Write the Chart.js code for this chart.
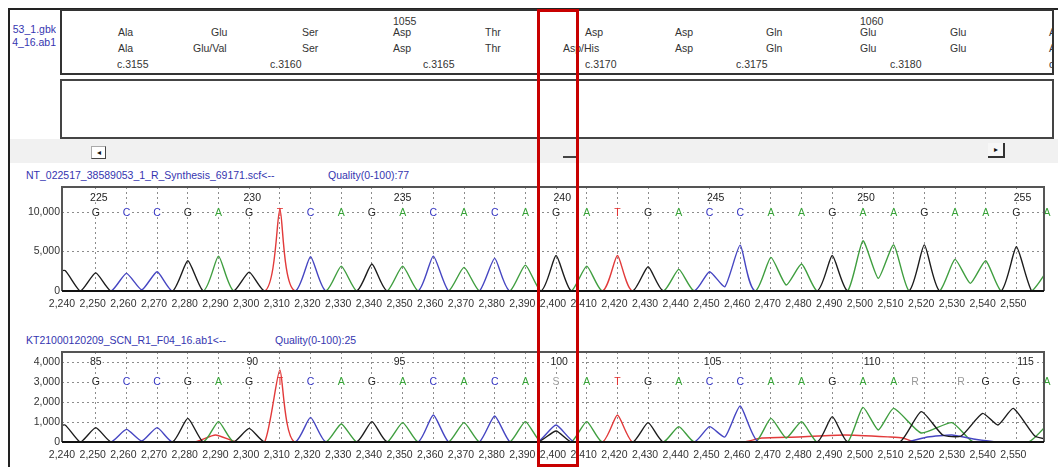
<!DOCTYPE html>
<html><head><meta charset="utf-8">
<script src="https://cdn.jsdelivr.net/npm/chart.js@4.4.1/dist/chart.umd.min.js"></script>
<style>
html,body{margin:0;padding:0;background:#fff;}
body{width:1058px;height:467px;position:relative;overflow:hidden;font-family:"Liberation Sans",Arial,sans-serif;}
.a{position:absolute;}
.t{position:absolute;white-space:nowrap;font-size:10.5px;line-height:13px;color:#333;}
.ttl{position:absolute;white-space:nowrap;font-size:10.5px;line-height:13px;color:#3535b0;}
canvas{position:absolute;left:0;}
</style></head><body>
<!-- outer frame -->
<div class="a" style="left:8px;top:8px;width:1050px;height:2px;background:#222"></div>
<div class="a" style="left:8px;top:8px;width:2px;height:459px;background:#222"></div>
<!-- file names column -->
<div class="a" style="left:10px;top:23px;width:46px;height:28px;overflow:hidden">
  <div class="ttl" style="right:0;top:0;text-align:right">53_1.gbk<br>4_16.ab1</div>
</div>
<!-- box 1 & 2 -->
<div class="a" style="left:60px;top:9px;width:994px;height:66px;border:2px solid #333;box-sizing:border-box"></div>
<div class="a" style="left:60px;top:79px;width:994px;height:60px;border:2px solid #444;box-sizing:border-box"></div>
<!-- translation text -->
<div class="t" style="left:393px;top:14.5px">1055</div>
<div class="t" style="left:860px;top:14.5px">1060</div>
<div class="t" style="left:118px;top:25.5px">Ala</div>
<div class="t" style="left:211px;top:25.5px">Glu</div>
<div class="t" style="left:302px;top:25.5px">Ser</div>
<div class="t" style="left:393px;top:25.5px">Asp</div>
<div class="t" style="left:485px;top:25.5px">Thr</div>
<div class="t" style="left:585px;top:25.5px">Asp</div>
<div class="t" style="left:675px;top:25.5px">Asp</div>
<div class="t" style="left:766px;top:25.5px">Gln</div>
<div class="t" style="left:860px;top:25.5px">Glu</div>
<div class="t" style="left:950px;top:25.5px">Glu</div>
<div class="t" style="left:118px;top:41.5px">Ala</div>
<div class="t" style="left:193px;top:41.5px">Glu/Val</div>
<div class="t" style="left:302px;top:41.5px">Ser</div>
<div class="t" style="left:393px;top:41.5px">Asp</div>
<div class="t" style="left:485px;top:41.5px">Thr</div>
<div class="t" style="left:563px;top:41.5px">Asp/His</div>
<div class="t" style="left:675px;top:41.5px">Asp</div>
<div class="t" style="left:766px;top:41.5px">Gln</div>
<div class="t" style="left:860px;top:41.5px">Glu</div>
<div class="t" style="left:950px;top:41.5px">Glu</div>
<div class="t" style="left:117px;top:57.5px">c.3155</div>
<div class="t" style="left:270px;top:57.5px">c.3160</div>
<div class="t" style="left:423px;top:57.5px">c.3165</div>
<div class="t" style="left:585px;top:57.5px">c.3170</div>
<div class="t" style="left:736px;top:57.5px">c.3175</div>
<div class="t" style="left:890px;top:57.5px">c.3180</div>
<div class="a" style="left:1047px;top:14px;width:5px;height:58px;overflow:hidden">
  <div class="t" style="left:2px;top:11.5px">A</div>
  <div class="t" style="left:2px;top:27.5px">A</div>
  <div class="t" style="left:2px;top:43.5px">c</div>
</div>
<!-- scroll band -->
<div class="a" style="left:10px;top:139px;width:1048px;height:24px;background:#f1f1f1"></div>
<div class="a" style="left:91px;top:146px;width:15px;height:13px;background:#fff;border:1px solid #aaa;border-right-color:#444;border-bottom-color:#444;box-sizing:border-box;font-size:8px;line-height:11px;text-align:center;color:#111">&#9666;</div>
<div class="a" style="left:988px;top:143px;width:17px;height:15px;background:#f7f7f7;border-right:2px solid #333;border-bottom:2px solid #333;box-sizing:border-box;font-size:8px;line-height:13px;text-align:center;color:#111">&#9656;</div>
<div class="a" style="left:563px;top:143px;width:16px;height:15px;border-right:2px solid #444;border-bottom:2px solid #444;box-sizing:border-box"></div>
<!-- chart titles -->
<div class="ttl" style="left:26px;top:168.5px">NT_022517_38589053_1_R_Synthesis_69171.scf&lt;--</div>
<div class="ttl" style="left:328px;top:168.5px">Quality(0-100):77</div>
<div class="ttl" style="left:26px;top:333.5px">KT21000120209_SCN_R1_F04_16.ab1&lt;--</div>
<div class="ttl" style="left:275px;top:333.5px">Quality(0-100):25</div>

<canvas id="c1" width="1058" height="136" style="top:175px"></canvas>
<canvas id="c2" width="1058" height="122" style="top:340px"></canvas>

<!-- highlight rectangle -->
<div class="a" style="left:537px;top:9px;width:42px;height:458px;border:3px solid #c80000;box-sizing:border-box"></div>

<script>
// ---------------- data ----------------
const xTicks = [2240,2250,2260,2270,2280,2290,2300,2310,2320,2330,2340,2350,2360,2370,2380,2390,2400,2410,2420,2430,2440,2450,2460,2470,2480,2490,2500,2510,2520,2530,2540,2550];
const gridPos = [2251,2261,2271,2281,2291,2301,2311,2321,2331,2341,2351,2361,2371,2381,2391,2401,2411,2421,2431,2441,2451,2461,2471,2481,2491,2501,2511,2521,2531,2541,2551];

// trace 1 (reference, bases 225-256)
const calls1 = ['G','C','C','G','A','G','T','C','A','G','A','C','A','C','A','G','A','T','G','A','C','C','A','A','G','A','A','G','A','A','G','A'];
const callPos1 = [2251,2261,2271,2281,2291,2301,2311,2321,2331,2341,2351,2361,2371,2381,2391,2401,2411,2421,2431,2441,2451,2461,2471,2481,2491,2501,2511,2521,2531,2541,2551,2561];
const baseNums1 = ['225','230','235','240','245','250','255'];
const baseNumPos1 = [2252,2302,2351,2403,2453,2502,2553];
const yTicks1 = [0,5000,10000];
const black1 = [[2238,2400],[2241,2600],[2246,0],[2251,2300],[2256,0],[2276,0],[2281,3840],[2286,0],[2296,0],[2301,2400],[2306,0],[2336,0],[2341,3420],[2346,0],[2396,0],[2401,4510],[2406,0],[2426,0],[2431,3080],[2436,0],[2486,0],[2491,4510],[2496,0],[2516,0],[2521,5860],[2526,0],[2546,0],[2551,5610],[2556,0],[2562,0]];
const blue1 = [[2240,0],[2256,0],[2261,2240],[2266,150],[2271,2450],[2276,0],[2316,0],[2321,4350],[2326,0],[2356,0],[2361,4430],[2366,0],[2376,0],[2381,4140],[2386,0],[2446,0],[2451,2450],[2456,550],[2461,5820],[2466,0],[2560,0]];
const green1 = [[2240,0],[2286,0],[2291,4430],[2296,0],[2326,0],[2331,3160],[2336,0],[2346,0],[2351,3160],[2356,0],[2366,0],[2371,3000],[2376,0],[2386,0],[2391,3290],[2396,0],[2406,0],[2411,3160],[2416,0],[2436,0],[2441,2750],[2446,0],[2466,0],[2471,4260],[2476,760],[2481,3420],[2486,0],[2496,0],[2501,6370],[2506,1600],[2511,5860],[2516,0],[2526,0],[2531,4010],[2536,970],[2541,3840],[2546,0],[2556,0],[2563,3800]];
const red1 = [[2240,0],[2306,0],[2311,10340],[2316,0],[2416,0],[2421,4510],[2426,0],[2560,0]];

// trace 2 (sample, bases 85-116)
const calls2 = ['G','C','C','G','A','G','T','C','A','G','A','C','A','C','A','S','A','T','G','A','C','C','A','A','G','A','A','R','R','G','G','A'];
const callPos2 = [2251,2261,2271,2281,2291,2301,2311,2321,2331,2341,2351,2361,2371,2381,2391,2401,2411,2421,2431,2441,2451,2461,2471,2481,2491,2501,2511,2518,2533,2541,2551,2561];
const baseNums2 = ['85','90','95','100','105','110','115'];
const baseNumPos2 = [2251,2302,2350,2402,2452,2504,2554];
const yTicks2 = [0,1000,2000,3000,4000];
const black2 = [[2238,750],[2241,850],[2246,0],[2251,720],[2256,0],[2276,0],[2281,1180],[2286,0],[2296,0],[2301,680],[2306,0],[2336,0],[2341,1020],[2346,0],[2395,0],[2401,550],[2406,0],[2426,0],[2431,970],[2436,0],[2486,0],[2491,1270],[2496,0],[2513,0],[2520,1520],[2527,350],[2533,300],[2540,1430],[2545,850],[2550,1680],[2557,300],[2562,100]];
const blue2 = [[2240,0],[2256,0],[2261,630],[2266,50],[2271,720],[2276,0],[2316,0],[2321,1230],[2326,0],[2356,0],[2361,1350],[2366,0],[2376,0],[2381,1300],[2386,0],[2395,0],[2401,850],[2407,0],[2446,0],[2451,770],[2456,250],[2461,1800],[2467,0],[2515,0],[2522,250],[2530,350],[2537,150],[2545,0],[2560,0]];
const green2 = [[2240,0],[2286,0],[2291,1020],[2296,0],[2326,0],[2331,900],[2336,0],[2346,0],[2351,970],[2356,0],[2366,0],[2371,970],[2376,0],[2386,0],[2391,1020],[2396,0],[2406,0],[2411,1020],[2416,0],[2436,0],[2441,770],[2446,0],[2466,0],[2471,1180],[2476,200],[2481,1020],[2486,0],[2496,0],[2501,1730],[2506,600],[2511,1680],[2520,450],[2530,970],[2537,0],[2555,0],[2563,1200]];
const red2 = [[2240,0],[2283,0],[2290,350],[2297,0],[2306,0],[2311,3600],[2316,0],[2416,0],[2421,1350],[2426,0],[2462,0],[2468,200],[2480,250],[2495,350],[2510,250],[2514,200],[2518,0],[2560,0]];

// ---------------- styling ----------------
const FONT = '"Liberation Sans", Arial, sans-serif';
Chart.defaults.font.family = FONT;
Chart.defaults.font.size = 10.5;
const traceColors = {G:'#1c1c1c', C:'#4646c2', A:'#3f9e3f', T:'#e23a3a'};
const letterColors = {G:'#222', C:'#3232c0', A:'#35a035', T:'#e02a2a', S:'#999', R:'#999'};
const fmt = v => String(v).replace(/\B(?=(\d{3})+(?!\d))/g, ',');

function makeCallsPlugin(calls, pos, nums, numPos, letterY, numY) {
  return {
    id: 'calls',
    beforeDatasetsDraw(chart) {
      const {ctx, scales} = chart;
      const x = scales.x, y = scales.y;
      ctx.save();
      ctx.font = '10.5px ' + FONT;
      ctx.textAlign = 'center';
      ctx.textBaseline = 'middle';
      calls.forEach((c, i) => {
        const px = x.getPixelForValue(pos[i]);
        const py = y.getPixelForValue(letterY);
        const w = ctx.measureText(c).width;
        ctx.fillStyle = '#fff';
        ctx.fillRect(px - w / 2 - 1, py - 5, w + 2, 10);
        ctx.fillStyle = letterColors[c];
        ctx.fillText(c, px, py + 0.5);
      });
      nums.forEach((n, i) => {
        const px = x.getPixelForValue(numPos[i]);
        const py = y.getPixelForValue(numY);
        const w = ctx.measureText(n).width;
        ctx.fillStyle = '#fff';
        ctx.fillRect(px - w / 2 - 1, py - 5, w + 2, 10);
        ctx.fillStyle = '#222';
        ctx.fillText(n, px, py + 0.5);
      });
      ctx.restore();
    }
  };
}

const framePlugin = {
  id: 'frame',
  afterDatasetsDraw(chart) {
    const {ctx, chartArea: a} = chart;
    ctx.save();
    ctx.strokeStyle = '#555';
    ctx.lineWidth = 2;
    ctx.beginPath();
    ctx.moveTo(a.left, a.bottom);
    ctx.lineTo(a.left, a.top);
    ctx.lineTo(a.right, a.top);
    ctx.lineTo(a.right, a.bottom);
    ctx.stroke();
    ctx.strokeStyle = '#111';
    ctx.lineWidth = 2.2;
    ctx.beginPath();
    ctx.moveTo(a.left, a.bottom);
    ctx.lineTo(a.right, a.bottom);
    ctx.stroke();
    ctx.restore();
  }
};

function makeChart(id, traces, yMax, yTicks, callsPlugin) {
  return new Chart(document.getElementById(id), {
    type: 'line',
    data: {
      datasets: traces.map(t => ({
        data: t.pts.map(p => ({x: p[0], y: p[1]})),
        borderColor: t.color,
        borderWidth: 1.4,
        pointRadius: 0,
        tension: 0.18,
        fill: false,
        xAxisID: 'x',
        yAxisID: 'y'
      }))
    },
    options: {
      responsive: false,
      animation: false,
      events: [],
      layout: {padding: {top: 12, right: 14, left: 0, bottom: 0}},
      plugins: {legend: {display: false}, tooltip: {enabled: false}},
      scales: {
        x: {
          type: 'linear', position: 'bottom', min: 2240, max: 2560,
          afterBuildTicks: a => { a.ticks = xTicks.map(v => ({value: v})); },
          afterFit: s => { s.height = 20; },
          grid: {display: false, drawTicks: false},
          border: {display: false},
          ticks: {autoSkip: false, maxRotation: 0, minRotation: 0, padding: 7, color: '#333', callback: v => fmt(v)}
        },
        xg: {
          type: 'linear', position: 'bottom', min: 2240, max: 2560,
          afterBuildTicks: a => { a.ticks = gridPos.map(v => ({value: v})); },
          ticks: {display: false},
          grid: {display: true, drawTicks: false, color: '#8c8c8c', lineWidth: 1},
          border: {display: false, dash: [2, 3]}
        },
        y: {
          type: 'linear', min: 0, max: yMax,
          afterBuildTicks: a => { a.ticks = yTicks.map(v => ({value: v})); },
          afterFit: s => { s.width = 62; },
          grid: {drawTicks: false, color: '#8c8c8c', lineWidth: 1},
          border: {display: false, dash: [2, 3]},
          ticks: {padding: 2, color: '#333', callback: v => fmt(v)}
        }
      }
    },
    plugins: [callsPlugin, framePlugin]
  });
}

makeChart('c1', [
  {pts: black1, color: traceColors.G},
  {pts: blue1, color: traceColors.C},
  {pts: green1, color: traceColors.A},
  {pts: red1, color: traceColors.T}
], 13200, yTicks1, makeCallsPlugin(calls1, callPos1, baseNums1, baseNumPos1, 10000, 11900));

makeChart('c2', [
  {pts: black2, color: traceColors.G},
  {pts: blue2, color: traceColors.C},
  {pts: green2, color: traceColors.A},
  {pts: red2, color: traceColors.T}
], 4500, yTicks2, makeCallsPlugin(calls2, callPos2, baseNums2, baseNumPos2, 3000, 4000));
</script>
</body></html>
